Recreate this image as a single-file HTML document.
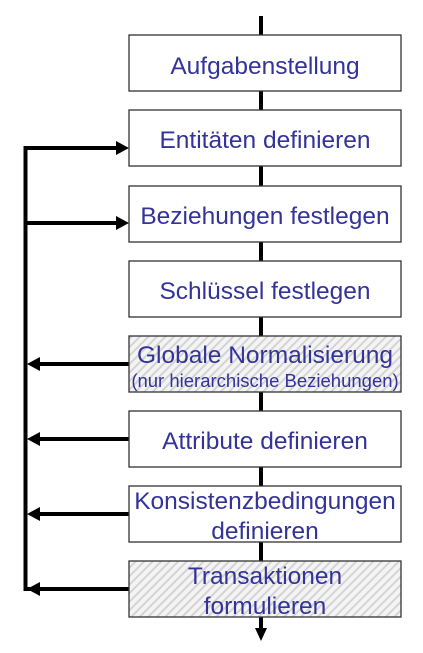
<!DOCTYPE html>
<html><head><meta charset="utf-8"><style>
body{margin:0;background:#fff;width:423px;height:653px;overflow:hidden}
svg{display:block}
text{font-family:"Liberation Sans",Arial,sans-serif;fill:#333399;text-anchor:middle}
</style></head><body>
<svg width="423" height="653" viewBox="0 0 423 653">
<defs>
<pattern id="h" width="6" height="6" patternUnits="userSpaceOnUse" patternTransform="rotate(-45)">
<rect width="6" height="6" fill="#f4f4f4"/><rect width="6" height="2" fill="#d4d4d4"/>
</pattern>
</defs>
<g stroke="#000" stroke-width="4" fill="none">
<line x1="261" y1="16" x2="261" y2="628"/>
<polyline points="116,148 25.5,148 25.5,589 40,589"/>
<line x1="25.5" y1="223" x2="116" y2="223"/>
<line x1="40" y1="364" x2="129" y2="364"/>
<line x1="40" y1="439" x2="129" y2="439"/>
<line x1="40" y1="514" x2="129" y2="514"/>
<line x1="40" y1="589" x2="129" y2="589"/>
</g>
<g fill="#000">
<polygon points="129,148 116,141 116,155"/>
<polygon points="129,223 116,216 116,230"/>
<polygon points="27,364 40,357 40,371"/>
<polygon points="27,439 40,432 40,446"/>
<polygon points="27,514 40,507 40,521"/>
<polygon points="27,589 40,582 40,596"/>
<polygon points="261,641 255,628 267,628"/>
</g>
<g stroke="#333" stroke-width="1.3">
<rect x="129" y="35" width="272" height="56" fill="#fff"/>
<rect x="129" y="110" width="272" height="56" fill="#fff"/>
<rect x="129" y="186" width="272" height="56" fill="#fff"/>
<rect x="129" y="261" width="272" height="56" fill="#fff"/>
<rect x="129" y="336" width="272" height="56" fill="url(#h)"/>
<rect x="129" y="411" width="272" height="56" fill="#fff"/>
<rect x="129" y="486" width="272" height="56" fill="#fff"/>
<rect x="129" y="561" width="272" height="56" fill="url(#h)"/>
</g>
<g font-size="24.5">
<text x="265" y="74">Aufgabenstellung</text>
<text x="265" y="148">Entitäten definieren</text>
<text x="265" y="224">Beziehungen festlegen</text>
<text x="265" y="299">Schlüssel festlegen</text>
<text x="265" y="363">Globale Normalisierung</text>
<text x="265" y="387" font-size="18.5">(nur hierarchische Beziehungen)</text>
<text x="265" y="449">Attribute definieren</text>
<text x="265" y="509">Konsistenzbedingungen</text>
<text x="265" y="539">definieren</text>
<text x="265" y="584">Transaktionen</text>
<text x="265" y="614">formulieren</text>
</g>
</svg>
</body></html>
